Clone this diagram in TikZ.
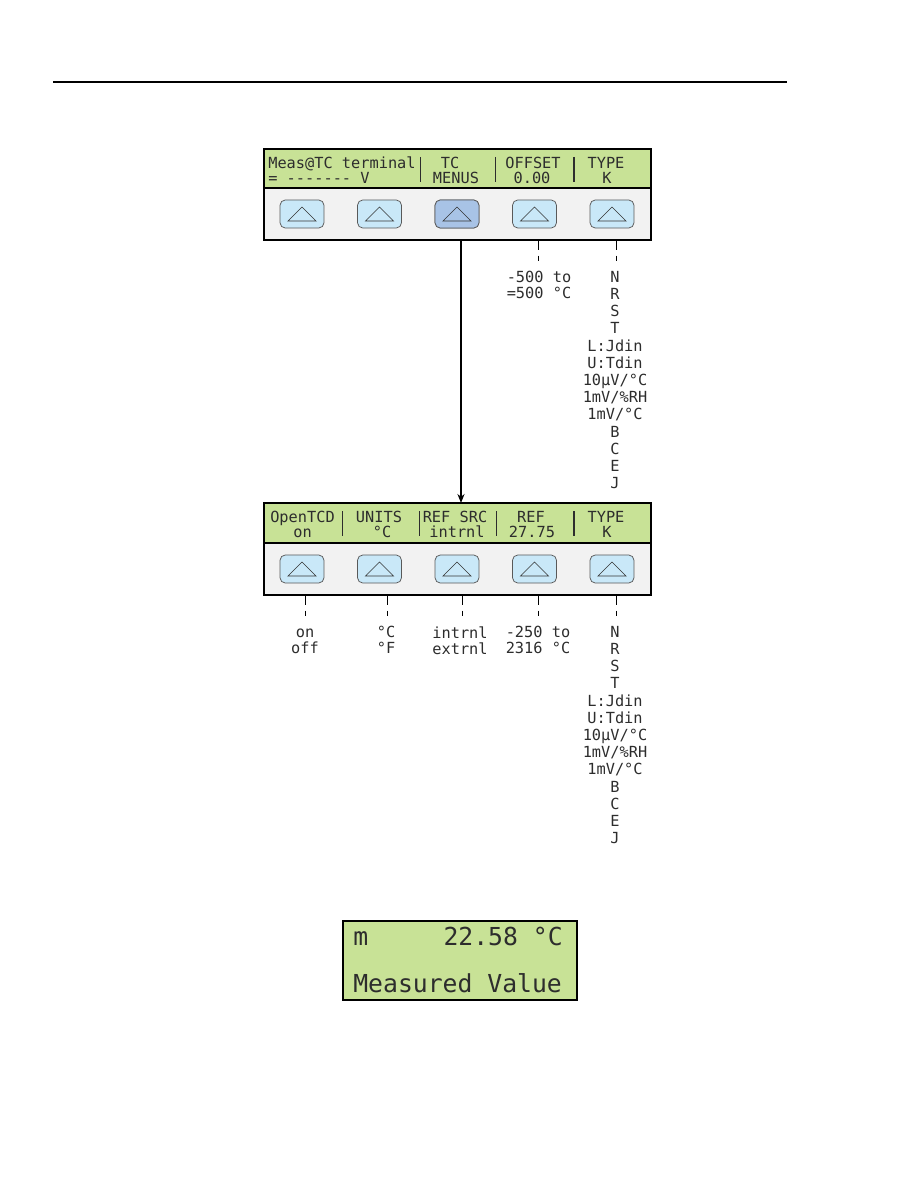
\documentclass[tikz,border=0pt]{standalone}
\usepackage{fontspec}
\newfontfamily\lcdfont{DejaVu Sans Mono}
\usetikzlibrary{arrows.meta}

\definecolor{lcdgreen}{RGB}{200,226,150}
\definecolor{panelgray}{RGB}{242,242,242}
\definecolor{keyblue}{RGB}{201,232,248}
\definecolor{keypressed}{RGB}{168,195,230}
\definecolor{lcdtext}{RGB}{45,45,45}

\tikzset{
  key/.style={draw=black!65, fill=keyblue, rounded corners=3.5pt, minimum width=29.3pt,
    minimum height=18.7pt, inner sep=0pt, line width=0.5pt},
  keytri/.style={draw=black!80, line width=0.45pt},
  lcd/.style={font=\lcdfont\fontsize{10.2}{10.7}\selectfont, text=lcdtext, inner sep=0pt, align=center},
  choice/.style={lcd, anchor=north},
  typelist/.style={choice, font=\lcdfont\fontsize{10.2}{11.45}\selectfont},
  bigtxt/.style={font=\lcdfont\fontsize{16.5}{18}\selectfont, text=lcdtext, inner sep=0pt},
  lead/.style={line width=0.6pt, dash pattern=on 6.7pt off 3.7pt on 3.3pt off 50pt},
  sepbar/.style={line width=0.6pt, lcdtext},
  thickbar/.style={line width=1.4pt, lcdtext},
  frame/.style={line width=0.7pt},
  flow/.style={line width=0.9pt, -{Stealth[length=6pt, width=4.7pt]}},
}

\begin{document}
\begin{tikzpicture}[x=0.6667pt, y=-0.6667pt]
  \useasboundingbox (0,0) rectangle (918,1188);

  % linka hore
  \draw[line width=0.8pt] (53,82) -- (787,82);

  % horny panel
  \fill[panelgray] (264,149) rectangle (651,240);
  \fill[lcdgreen] (264,149) rectangle (651,188);
  \draw[frame] (264,188) -- (651,188);
  \draw[frame] (264,149) rectangle (651,240);

  \node[lcd, anchor=base west] (measA) at (268,168.5) {Meas@TC terminal};
  \node[lcd, anchor=base west] (measB) at (268,183.5) {= ------- V};
  \node[lcd, anchor=base] (tcA) at (450,168.5) {TC};
  \node[lcd, anchor=base] (tcB) at (456,183.5) {MENUS};
  \node[lcd, anchor=base] (offA) at (533,168.5) {OFFSET};
  \node[lcd, anchor=base] (offB) at (532,183.5) {0.00};
  \node[lcd, anchor=base] (typA) at (606,168.5) {TYPE};
  \node[lcd, anchor=base] (typB) at (607,183.5) {K};
  \draw[sepbar] (420,157) -- (420,182);
  \draw[sepbar] (495,157) -- (495,182);
  \draw[thickbar] (574,157) -- (574,182);

  \foreach \i/\x in {1/302,2/379.5,3/457,4/534.5,5/612}
    \node[key] (topkey\i) at (\x,214) {};
  \node[key, fill=keypressed] at (topkey3) {};
  \foreach \i in {1,...,5}
    \draw[keytri] ([shift={(-14,7)}]topkey\i.center) -- ++(28,0) -- ++(-14,-14) -- cycle;

  \foreach \i/\x in {3/461,4/538,5/616}
    \coordinate (topout\i) at (\x,240);

  % dolny panel
  \fill[panelgray] (264,503) rectangle (651,595);
  \fill[lcdgreen] (264,503) rectangle (651,543);
  \draw[frame] (264,543) -- (651,543);
  \draw[frame] (264,503) rectangle (651,595);

  \node[lcd, anchor=base] (tcdA) at (302.5,522.5) {OpenTCD};
  \node[lcd, anchor=base] (tcdB) at (302.5,537.5) {on};
  \node[lcd, anchor=base] (unA) at (379,522.5) {UNITS};
  \node[lcd, anchor=base] (unB) at (382,537.5) {°C};
  \node[lcd, anchor=base] (srcA) at (455,522.5) {REF SRC};
  \node[lcd, anchor=base] (srcB) at (457,537.5) {intrnl};
  \node[lcd, anchor=base] (refA) at (531,522.5) {REF};
  \node[lcd, anchor=base] (refB) at (532,537.5) {27.75};
  \node[lcd, anchor=base] (btypA) at (606,522.5) {TYPE};
  \node[lcd, anchor=base] (btypB) at (607,537.5) {K};
  \draw[sepbar] (342,511) -- (342,536);
  \draw[sepbar] (419,511) -- (419,536);
  \draw[sepbar] (496,511) -- (496,536);
  \draw[thickbar] (574,511) -- (574,536);

  \foreach \i/\x in {1/302,2/379.5,3/457,4/534.5,5/612}
    \node[key] (botkey\i) at (\x,569) {};
  \foreach \i in {1,...,5}
    \draw[keytri] ([shift={(-14,7)}]botkey\i.center) -- ++(28,0) -- ++(-14,-14) -- cycle;

  \coordinate (botin3) at (461,503);
  \foreach \i/\x in {1/305,2/387,3/462,4/538,5/616}
    \coordinate (botout\i) at (\x,595);

  % prechod TC MENUS
  \draw[flow] (topout3) -- (botin3);

  % moznosti hore
  \node[choice] (offrange) at (539,271) {-500 to\\=500 °C};
  \node[typelist] (toptypes) at (615,271) {N\\R\\S\\T\\L:Jdin\\U:Tdin\\10μV/°C\\1mV/\%RH\\1mV/°C\\B\\C\\E\\J};
  \draw[lead] (topout4) -- (topout4 |- offrange.north);
  \draw[lead] (topout5) -- (topout5 |- toptypes.north);

  % moznosti dole
  \node[choice] (tcdopts) at (305,626) {\vphantom{0}on\\off};
  \node[choice] (unitopts) at (386,626) {°C\\°F};
  \node[choice] (srcopts) at (460,626) {intrnl\\extrnl};
  \node[choice] (refrange) at (538,626) {-250 to\\2316 °C};
  \node[typelist] (bottypes) at (615,626) {N\\R\\S\\T\\L:Jdin\\U:Tdin\\10μV/°C\\1mV/\%RH\\1mV/°C\\B\\C\\E\\J};
  \draw[lead] (botout1) -- (botout1 |- tcdopts.north);
  \draw[lead] (botout2) -- (botout2 |- unitopts.north);
  \draw[lead] (botout3) -- (botout3 |- srcopts.north);
  \draw[lead] (botout4) -- (botout4 |- refrange.north);
  \draw[lead] (botout5) -- (botout5 |- bottypes.north);

  % displej merania
  \fill[lcdgreen] (343,921) rectangle (577,1000);
  \draw[frame] (343,921) rectangle (577,1000);
  \node[bigtxt, anchor=base west] (modeflag) at (353,945) {m};
  \node[bigtxt, anchor=base east] (tempread) at (563,945) {22.58 °C};
  \node[bigtxt, anchor=base west] (readlabel) at (353,992) {Measured Value};

\end{tikzpicture}
\end{document}
